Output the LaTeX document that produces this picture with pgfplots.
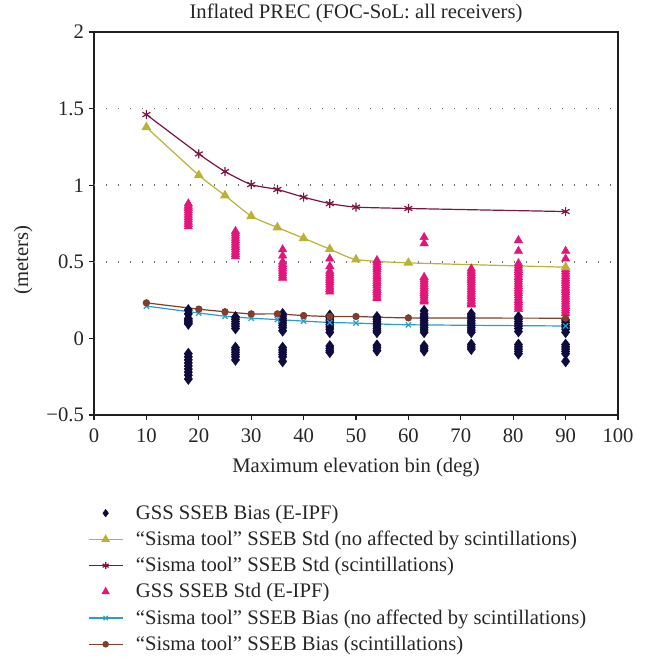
\documentclass[border=0pt]{standalone}
\usepackage{fontspec}
\setmainfont{Liberation Serif}
\usepackage{pgfplots}
\pgfplotsset{compat=1.18}
\definecolor{cnavy}{RGB}{14,12,62}
\definecolor{colive}{RGB}{186,178,52}
\definecolor{cmaroon}{RGB}{125,20,68}
\definecolor{cpink}{RGB}{226,22,122}
\definecolor{ccyan}{RGB}{40,158,205}
\definecolor{cbrown}{RGB}{128,62,44}
\definecolor{cgrid}{RGB}{110,110,110}
\definecolor{caxis}{RGB}{30,30,30}
\begin{document}
\begin{tikzpicture}
\useasboundingbox (-70.5pt,-181.5pt) rectangle (415.5pt,311.25pt);
\begin{axis}[
  at={(0pt,0pt)}, anchor=south west,
  scale only axis, width=393pt, height=287.25pt,
  xmin=0, xmax=100, ymin=-0.5, ymax=2,
  xtick={0,10,...,100},
  ytick={-0.5,0,0.5,1,1.5,2},
  yticklabels={−0.5,0,0.5,1,1.5,2},
  xticklabels={0,10,20,30,40,50,60,70,80,90,100},
  /pgf/number format/assume math mode=true,
  tick align=outside, xtick pos=bottom, ytick pos=left,
  major tick length=4pt,
  tick style={caxis, line width=0.8pt},
  axis line style={caxis, line width=1pt},
  extra y ticks={0.5,1,1.5}, extra y tick labels={},
  extra y tick style={grid=major, major tick length=0pt},
  major grid style={cgrid, line width=1.1pt, dash pattern=on 1.1pt off 7.9pt},
  tick label style={font=\fontsize{15.5}{17}\selectfont, text=black!85},
  xticklabel style={yshift=-3pt},
  xlabel={Maximum elevation bin (deg)},
  ylabel={(meters)},
  label style={font=\fontsize{15.5}{17}\selectfont, text=black!85},
  xlabel style={at={(axis description cs:0.5,-0.138)}, anchor=center},
  ylabel style={at={(axis description cs:-0.135,0.405)}, anchor=center},
  title={Inflated PREC (FOC-SoL: all receivers)},
  title style={font=\fontsize{15.5}{17}\selectfont, text=black!85, at={(axis description cs:0.5,1.0285)}, anchor=center, yshift=0pt},
  legend style={at={(axis description cs:-0.012,-0.229)}, anchor=north west, draw=none, fill=none,
    font=\fontsize{15.5}{17}\selectfont, text=black!85, row sep=4.35pt, inner sep=0pt,
    nodes={inner sep=1.5pt}},
  legend cell align=left,
  legend image code/.code={\draw[mark repeat=2,mark phase=2,#1] plot coordinates {(0cm,0cm) (0.45cm,0cm) (0.9cm,0cm)}; \path (1.18cm,0cm);},
]
% GSS SSEB Bias (E-IPF)
\addplot[only marks, mark=diamond*, mark size=4.1pt, color=cnavy, forget plot] coordinates {
(18,0.185)(18,0.16)(18,0.13)(18,0.12)(18,0.11)(18,0.10)(18,0.095)
(18,-0.10)(18,-0.12)(18,-0.14)(18,-0.16)(18,-0.18)(18,-0.20)(18,-0.22)(18,-0.24)(18,-0.265)
(27,0.14)(27,0.125)(27,0.11)(27,0.095)(27,0.08)(27,0.065)
(27,-0.06)(27,-0.075)(27,-0.09)(27,-0.105)(27,-0.12)(27,-0.14)
(36,0.16)(36,0.145)(36,0.13)(36,0.115)(36,0.10)(36,0.085)(36,0.07)(36,0.05)
(36,-0.06)(36,-0.075)(36,-0.09)(36,-0.105)(36,-0.12)(36,-0.15)
(45,0.15)(45,0.135)(45,0.12)(45,0.105)(45,0.09)(45,0.075)(45,0.06)(45,0.04)
(45,-0.05)(45,-0.065)(45,-0.08)(45,-0.09)
(54,0.14)(54,0.125)(54,0.11)(54,0.095)(54,0.08)(54,0.065)(54,0.05)(54,0.04)
(54,-0.045)(54,-0.06)(54,-0.08)
(63,0.18)(63,0.16)(63,0.145)(63,0.13)(63,0.115)(63,0.10)(63,0.085)(63,0.07)(63,0.055)(63,0.04)
(63,-0.05)(63,-0.065)(63,-0.08)
(72,0.16)(72,0.145)(72,0.13)(72,0.115)(72,0.10)(72,0.085)(72,0.07)(72,0.055)(72,0.04)
(72,-0.04)(72,-0.055)(72,-0.07)
(81,0.14)(81,0.125)(81,0.11)(81,0.095)(81,0.08)(81,0.065)(81,0.045)
(81,-0.04)(81,-0.055)(81,-0.07)(81,-0.085)(81,-0.10)
(90,0.12)(90,0.105)(90,0.09)(90,0.075)(90,0.06)(90,0.04)
(90,-0.04)(90,-0.055)(90,-0.07)(90,-0.085)(90,-0.10)(90,-0.15)
};
% GSS SSEB Std (E-IPF)
\addplot[only marks, mark=triangle*, mark size=3.6pt, color=cpink, forget plot] coordinates {
(18,0.88)(18,0.865)(18,0.85)(18,0.835)(18,0.82)(18,0.805)(18,0.79)(18,0.775)(18,0.76)(18,0.745)(18,0.73)
(27,0.70)(27,0.685)(27,0.67)(27,0.655)(27,0.64)(27,0.625)(27,0.61)(27,0.595)(27,0.58)(27,0.565)(27,0.55)(27,0.535)
(36,0.58)(36,0.54)(36,0.50)(36,0.485)(36,0.47)(36,0.455)(36,0.44)(36,0.425)(36,0.41)(36,0.395)
(45,0.52)(45,0.47)(45,0.44)(45,0.425)(45,0.41)(45,0.395)(45,0.38)(45,0.365)(45,0.35)(45,0.335)(45,0.32)(45,0.305)
(54,0.51)(54,0.495)(54,0.48)(54,0.465)(54,0.45)(54,0.435)(54,0.42)(54,0.405)(54,0.39)(54,0.375)(54,0.36)(54,0.345)(54,0.33)(54,0.315)(54,0.30)(54,0.285)(54,0.27)(54,0.26)
(63,0.66)(63,0.62)(63,0.40)(63,0.385)(63,0.37)(63,0.355)(63,0.34)(63,0.325)(63,0.31)(63,0.295)(63,0.28)(63,0.265)(63,0.25)(63,0.24)
(72,0.455)(72,0.44)(72,0.425)(72,0.41)(72,0.395)(72,0.38)(72,0.365)(72,0.35)(72,0.335)(72,0.32)(72,0.305)(72,0.29)(72,0.275)(72,0.26)(72,0.245)(72,0.23)(72,0.22)
(81,0.64)(81,0.57)(81,0.49)(81,0.475)(81,0.46)(81,0.445)(81,0.43)(81,0.415)(81,0.40)(81,0.385)(81,0.37)(81,0.355)(81,0.34)(81,0.325)(81,0.31)(81,0.295)(81,0.28)(81,0.265)(81,0.25)(81,0.235)(81,0.22)(81,0.205)(81,0.19)
(90,0.57)(90,0.52)(90,0.45)(90,0.435)(90,0.42)(90,0.405)(90,0.39)(90,0.375)(90,0.36)(90,0.345)(90,0.33)(90,0.315)(90,0.30)(90,0.285)(90,0.27)(90,0.255)(90,0.24)(90,0.225)(90,0.21)(90,0.195)(90,0.18)(90,0.165)
};
% Sisma Std (no scint)
\addplot[colive, line width=0.9pt, smooth, tension=0.35, mark=triangle*, mark size=3.4pt, mark options={solid}, forget plot] coordinates {
(10,1.378)(20,1.065)(25,0.933)(30,0.798)(35,0.724)(40,0.654)(45,0.583)(50,0.515)(60,0.493)(90,0.465)};
% Sisma Std (scint)
\addplot[cmaroon, line width=0.9pt, smooth, tension=0.35, mark=asterisk, mark size=3.4pt, mark options={solid, line width=0.9pt}, forget plot] coordinates {
(10,1.461)(20,1.204)(25,1.089)(30,1.004)(35,0.972)(40,0.922)(45,0.880)(50,0.857)(60,0.848)(90,0.828)};
% Sisma Bias (no scint)
\addplot[ccyan, line width=0.9pt, smooth, tension=0.35, mark=x, mark size=2.8pt, mark options={solid, line width=0.9pt}, forget plot] coordinates {
(10,0.211)(20,0.166)(25,0.145)(30,0.132)(35,0.123)(40,0.113)(45,0.104)(50,0.100)(60,0.089)(90,0.081)};
% Sisma Bias (scint)
\addplot[cbrown, line width=0.9pt, smooth, tension=0.35, mark=*, mark size=2.3pt, mark options={solid}, forget plot] coordinates {
(10,0.232)(20,0.191)(25,0.174)(30,0.160)(35,0.160)(40,0.149)(45,0.143)(50,0.143)(60,0.134)(90,0.132)};
\addlegendimage{only marks, mark=diamond*, mark size=2.8pt, color=cnavy}
\addlegendentry{GSS SSEB Bias (E-IPF)}
\addlegendimage{colive, line width=0.9pt, mark=triangle*, mark size=3pt}
\addlegendentry{“Sisma tool” SSEB Std (no affected by scintillations)}
\addlegendimage{cmaroon, line width=0.9pt, mark=asterisk, mark size=2.6pt}
\addlegendentry{“Sisma tool” SSEB Std (scintillations)}
\addlegendimage{only marks, mark=triangle*, mark size=3.3pt, color=cpink}
\addlegendentry{GSS SSEB Std (E-IPF)}
\addlegendimage{ccyan, line width=0.9pt, mark=x, mark size=2.3pt}
\addlegendentry{“Sisma tool” SSEB Bias (no affected by scintillations)}
\addlegendimage{cbrown, line width=0.9pt, mark=*, mark size=2pt}
\addlegendentry{“Sisma tool” SSEB Bias (scintillations)}
\end{axis}
\end{tikzpicture}
\end{document}
